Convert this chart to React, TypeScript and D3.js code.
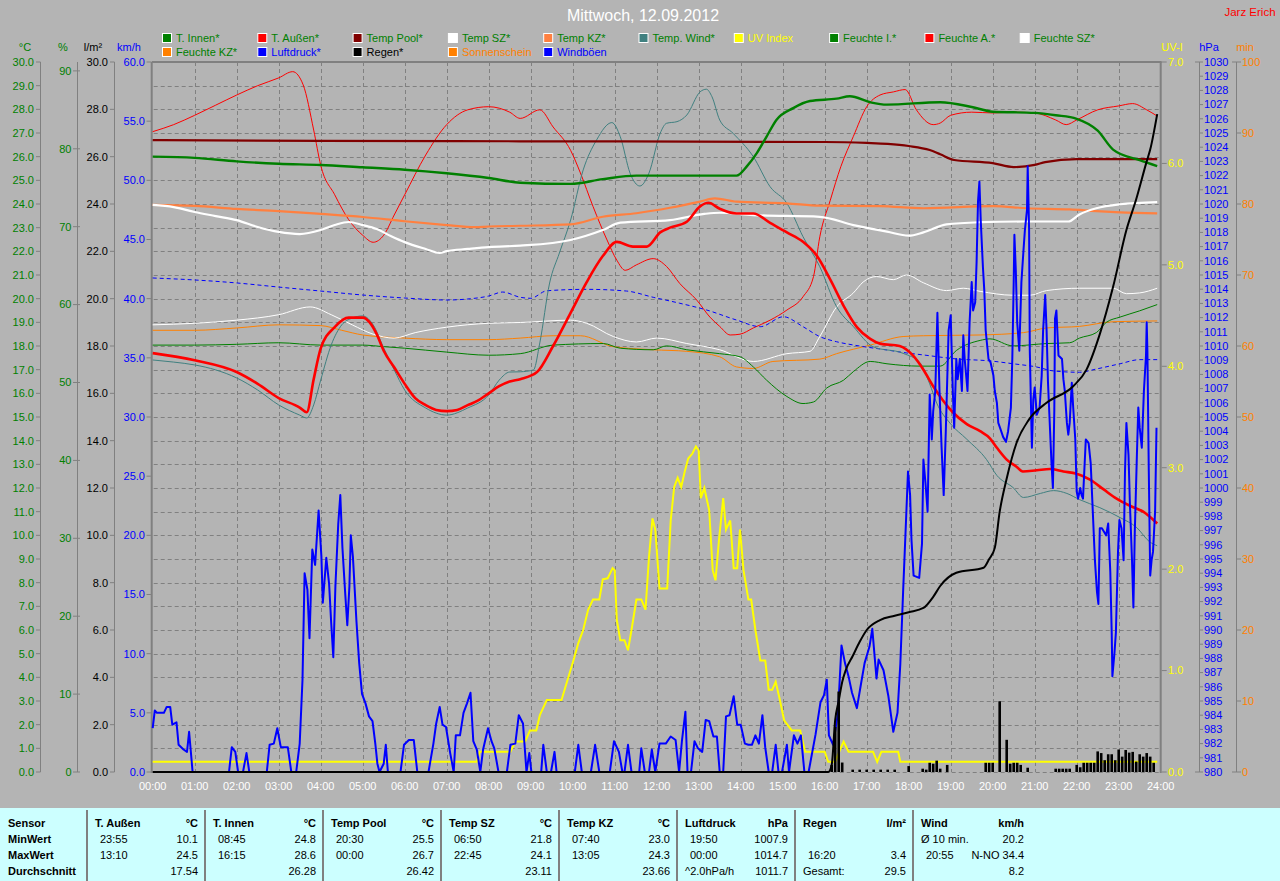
import React from "react";
import * as d3 from "d3";

type P = [string, number];
type M = [number, number];

// ---------- tick labels ----------
const hourTicks = d3.range(0, 25);
const tempTicks = d3.range(0, 31);
const pctTicks = d3.range(0, 91, 10);
const rainTicks = d3.range(0, 31, 2);
const kmhTicks = d3.range(0, 61, 5);
const uvTicks = d3.range(0, 8);
const hpaTicks = d3.range(980, 1031);
const minTicks = d3.range(0, 101, 10);

// ---------- series (time, value) ----------
const tInnen: P[] = [["00:00",26.0],["01:00",25.95],["02:00",25.8],["03:00",25.7],["04:00",25.65],["05:00",25.55],["06:00",25.45],["07:00",25.3],["08:00",25.1],["08:45",24.9],["09:57",24.85],["10:43",25.05],["11:31",25.2],["12:43",25.2],["13:54",25.2],["14:09",25.6],["14:23",26.15],["14:37",26.85],["14:51",27.55],["15:15",28.05],["15:39",28.35],["16:17",28.45],["16:36",28.55],["17:05",28.3],["17:29",28.2],["18:45",28.3],["19:30",28.1],["20:00",27.9],["21:00",27.85],["21:30",27.75],["22:00",27.6],["22:30",27.1],["22:52",26.3],["23:30",25.85],["23:55",25.6]];

const tAussen: P[] = [["00:00",17.7],["01:00",17.4],["02:00",16.9],["02:30",16.4],["03:00",15.8],["03:30",15.4],["03:40",15.2],["03:50",16.6],["04:00",17.9],["04:20",18.8],["04:40",19.2],["05:00",19.2],["05:10",19.0],["05:20",18.5],["05:30",17.8],["05:45",17.1],["06:00",16.4],["06:15",15.8],["06:30",15.5],["06:45",15.3],["07:00",15.25],["07:15",15.3],["07:30",15.5],["07:45",15.7],["08:00",16.0],["08:15",16.3],["08:30",16.5],["08:45",16.6],["09:09",16.9],["09:32",18.0],["09:57",19.4],["10:20",20.7],["10:43",21.8],["11:03",22.4],["11:26",22.2],["11:46",22.2],["12:05",22.8],["12:19",23.0],["12:43",23.25],["13:02",23.9],["13:14",24.05],["13:30",23.8],["13:54",23.6],["14:18",23.6],["14:42",23.2],["15:06",22.8],["15:29",22.4],["15:49",21.8],["16:08",20.8],["16:27",19.7],["16:46",18.8],["17:05",18.3],["17:19",18.1],["17:47",18.0],["18:06",17.6],["18:21",17.0],["18:35",16.3],["18:49",15.7],["19:03",15.2],["19:23",14.7],["19:42",14.4],["19:56",14.1],["20:06",13.7],["20:20",13.2],["20:34",12.9],["20:43",12.7],["21:03",12.75],["21:22",12.8],["21:41",12.7],["22:00",12.6],["22:19",12.35],["22:38",11.95],["22:57",11.55],["23:16",11.25],["23:35",11.0],["23:55",10.5]];

const tPool: P[] = [["00:00",26.7],["04:00",26.67],["08:45",26.65],["16:00",26.62],["17:00",26.58],["17:30",26.54],["18:00",26.45],["18:30",26.28],["18:45",26.1],["19:05",25.86],["20:00",25.73],["20:30",25.56],["21:00",25.65],["21:15",25.77],["22:00",25.9],["23:55",25.9]];

const tSZ: P[] = [["00:00",23.96],["00:30",23.87],["01:00",23.66],["01:30",23.49],["02:00",23.32],["02:30",23.03],["03:00",22.82],["03:30",22.73],["04:00",22.9],["04:20",23.11],["04:40",23.24],["05:00",23.11],["05:20",22.94],["05:40",22.65],["06:00",22.39],["06:30",22.1],["06:50",21.93],["07:00",22.01],["07:30",22.1],["08:00",22.18],["08:45",22.24],["09:57",22.48],["10:43",22.9],["11:08",23.21],["12:19",23.32],["13:08",23.58],["13:30",23.63],["14:18",23.53],["15:53",23.46],["16:41",23.11],["17:29",22.83],["18:00",22.66],["18:21",22.8],["18:54",23.14],["19:42",23.23],["20:44",23.26],["21:48",23.26],["22:04",23.56],["22:28",23.82],["23:02",23.99],["23:55",24.08]];

const tKZ: P[] = [["00:00",23.96],["01:00",23.92],["02:00",23.79],["03:00",23.7],["04:00",23.58],["05:00",23.45],["06:00",23.27],["07:00",23.11],["07:40",23.02],["08:00",23.05],["08:45",23.08],["09:57",23.14],["10:43",23.46],["11:31",23.61],["12:19",23.84],["13:02",24.1],["13:23",24.24],["13:54",24.1],["15:06",24.03],["15:53",23.93],["17:19",23.91],["18:21",23.82],["20:01",23.91],["20:49",23.82],["21:50",23.77],["22:28",23.7],["23:02",23.65],["23:55",23.6]];

const tWind: P[] = [["00:00",17.41],["00:30",17.32],["01:00",17.2],["01:30",16.99],["02:00",16.65],["02:30",16.14],["03:00",15.51],["03:30",15.08],["03:40",14.96],["03:50",15.51],["04:00",16.56],["04:15",18.04],["04:30",18.89],["04:45",19.18],["05:00",19.27],["05:15",18.89],["05:30",17.92],["05:45",16.99],["06:00",16.14],["06:30",15.38],["07:00",15.08],["07:30",15.38],["08:00",15.93],["08:15",16.56],["08:30",16.9],["08:45",16.91],["09:04",16.99],["09:13",18.13],["09:27",20.66],["09:41",21.93],["09:57",23.32],["10:15",25.44],["10:34",26.7],["10:56",27.44],["11:08",26.84],["11:22",25.3],["11:36",24.76],["11:49",25.31],["12:05",26.99],["12:14",27.41],["12:29",27.48],["12:43",27.76],["13:02",28.74],["13:11",28.85],["13:19",28.53],["13:30",27.55],["13:49",26.99],["14:18",26.0],["14:42",24.73],["15:06",24.03],["15:29",22.62],["15:53",21.35],["16:17",19.66],["16:41",18.82],["17:09",17.97],["17:52",17.69],["18:16",17.3],["18:30",16.4],["18:40",15.59],["18:59",14.74],["19:23",14.06],["19:51",13.21],["20:06",12.53],["20:29",12.02],["20:44",11.6],["21:08",11.77],["21:27",11.89],["21:46",11.77],["22:04",11.51],["22:33",11.17],["23:02",10.75],["23:26",10.32],["23:44",9.73],["23:55",9.56]];

const feuchteA: P[] = [["00:00",82.2],["00:30",83.1],["01:00",84.3],["01:30",85.6],["02:00",86.9],["02:30",88.1],["03:00",89.1],["03:20",89.9],["03:35",88.2],["03:50",82.4],["04:00",77.9],["04:20",74.1],["04:40",70.9],["05:00",68.9],["05:15",68.0],["05:30",68.9],["05:45",71.5],["06:00",74.1],["06:30",79.2],["07:00",83.1],["07:30",85.0],["08:00",85.4],["08:30",84.7],["08:45",83.9],["09:13",85.0],["09:32",82.8],["09:57",79.8],["10:11",76.9],["10:29",72.6],["10:49",68.3],["11:03",65.7],["11:15",64.4],["11:31",65.1],["11:55",65.9],["12:14",64.9],["12:33",62.7],["12:57",60.6],["13:16",58.4],["13:30",57.2],["13:45",56.1],["13:59",56.2],["14:18",57.0],["14:42",58.0],["15:06",59.3],["15:29",61.0],["15:44",63.6],["15:53",68.7],["16:08",73.4],["16:23",77.7],["16:41",81.6],["17:00",85.4],["17:19",86.9],["17:38",87.3],["17:55",87.6],["18:11",85.0],["18:35",83.1],["18:45",83.3],["19:00",84.3],["19:30",84.7],["20:00",84.6],["20:30",84.7],["21:00",84.6],["21:30",83.7],["21:45",83.1],["22:00",83.7],["22:30",85.0],["23:00",85.5],["23:20",85.8],["23:40",85.0],["23:55",84.2]];

const feuchteI: P[] = [["00:00",54.8],["01:00",54.8],["02:00",54.9],["03:00",55.1],["04:00",54.8],["05:00",54.8],["05:30",54.6],["06:00",54.4],["07:00",53.9],["08:00",53.5],["08:45",53.7],["09:32",54.8],["10:44",55.0],["11:08",54.4],["11:55",54.2],["12:14",54.7],["12:43",54.2],["13:30",53.7],["13:59",53.3],["14:18",52.0],["14:37",50.3],["15:06",48.2],["15:29",47.3],["15:44",47.5],["16:03",49.3],["16:27",50.3],["16:41",51.4],["17:05",52.7],["17:29",52.4],["18:16",52.1],["18:45",52.1],["19:08",54.1],["19:42",55.4],["19:56",55.6],["20:29",54.7],["21:17",55.0],["21:50",55.1],["22:04",55.7],["22:28",56.4],["22:42",57.7],["23:02",58.4],["23:30",59.2],["23:55",60.0]];

const feuchteSZ: P[] = [["00:00",57.4],["01:00",57.6],["02:00",58.0],["03:00",58.7],["03:45",59.7],["04:15",58.7],["04:45",57.4],["05:15",56.2],["05:45",55.7],["06:15",56.4],["07:00",57.1],["08:00",57.6],["08:45",57.7],["09:57",58.0],["10:20",57.6],["10:58",55.9],["11:31",55.2],["12:00",55.7],["12:43",55.0],["13:30",54.2],["14:18",52.7],["15:06",53.7],["15:39",54.0],["15:53",55.9],["16:17",59.7],["16:41",61.5],["16:55",62.9],["17:14",63.6],["17:38",63.2],["17:57",63.8],["18:21",62.8],["18:54",61.8],["19:18",62.1],["19:42",61.7],["20:29",61.2],["20:53",61.2],["21:17",61.8],["22:04",62.1],["22:52",62.1],["23:11",61.4],["23:30",61.5],["23:55",62.1]];

const feuchteKZ: P[] = [["00:00",56.7],["01:00",56.7],["02:00",57.0],["03:00",57.4],["04:00",57.3],["04:30",56.7],["05:00",56.1],["06:00",55.7],["07:00",55.5],["08:00",55.5],["08:45",55.7],["09:32",56.0],["10:11",56.0],["10:58",54.6],["11:55",54.2],["12:43",54.0],["13:30",53.3],["13:54",52.0],["14:18",51.8],["14:46",52.7],["15:53",53.0],["16:17",53.7],["17:05",54.8],["17:52",55.9],["18:21",56.0],["19:42",56.1],["20:44",56.4],["21:17",57.0],["22:04",57.2],["22:52",57.8],["23:55",57.9]];

const luftdruck: P[] = [["00:00",1014.79],["01:00",1014.65],["02:00",1014.44],["03:00",1014.15],["04:00",1013.87],["05:00",1013.59],["06:00",1013.38],["07:00",1013.24],["07:30",1013.31],["08:00",1013.52],["08:20",1013.8],["08:45",1013.43],["09:00",1013.36],["09:23",1013.89],["10:20",1013.99],["11:17",1013.87],["11:55",1013.43],["12:33",1013.01],["13:11",1012.54],["13:54",1011.83],["14:28",1011.36],["15:01",1012.06],["15:29",1011.36],["15:53",1010.66],["16:17",1010.3],["16:41",1010.07],["17:29",1009.72],["17:57",1009.51],["18:21",1009.37],["19:08",1009.09],["19:56",1008.95],["20:29",1008.75],["21:03",1008.52],["21:27",1008.24],["22:04",1008.15],["22:28",1008.38],["23:02",1008.75],["23:30",1009.04],["23:55",1009.04]];

const regenSumme: P[] = [["00:00",0],["16:05",0],["16:10",0.3],["16:15",2.2],["16:20",3.0],["16:25",3.8],["16:30",4.3],["16:40",4.9],["16:50",5.5],["17:00",6.0],["17:19",6.42],["17:40",6.6],["18:00",6.75],["18:21",6.93],["18:35",7.4],["18:45",7.86],["19:08",8.42],["19:47",8.63],["19:55",9.0],["20:03",9.47],["20:10",11.0],["20:20",12.4],["20:34",13.9],["20:52",14.9],["21:17",15.6],["21:55",16.3],["22:14",17.0],["22:33",18.5],["22:52",20.5],["23:11",22.9],["23:25",24.2],["23:40",25.8],["23:45",26.3],["23:55",27.8]];

const regenBalken: P[] = [["16:10",0.3],["16:15",1.9],["16:20",3.4],["16:25",0.4],["16:40",0.1],["16:50",0.1],["17:00",0.1],["17:10",0.1],["17:20",0.1],["17:30",0.1],["17:40",0.1],["18:00",0.25],["18:20",0.14],["18:25",0.1],["18:30",0.39],["18:35",0.35],["18:40",0.48],["18:45",0.14],["18:55",0.3],["19:50",0.39],["19:55",0.39],["20:00",0.39],["20:10",2.99],["20:20",1.36],["20:25",0.35],["20:30",0.39],["20:35",0.39],["20:40",0.3],["20:50",0.18],["21:30",0.14],["21:35",0.14],["21:40",0.14],["21:45",0.14],["21:50",0.14],["22:00",0.3],["22:05",0.2],["22:10",0.39],["22:15",0.39],["22:20",0.39],["22:25",0.39],["22:30",0.87],["22:35",0.8],["22:40",0.5],["22:45",0.75],["22:50",0.75],["22:55",0.5],["23:00",0.95],["23:05",0.65],["23:10",0.93],["23:15",0.82],["23:20",0.85],["23:25",0.44],["23:30",0.75],["23:35",0.65],["23:40",0.8],["23:45",0.65],["23:50",0.39]];

const uvIndex: P[] = [["00:00",0.1],["07:43",0.1],["07:47",0.2],["08:31",0.2],["08:38",0.3],["08:52",0.3],["08:59",0.41],["09:08",0.41],["09:13",0.56],["09:23",0.71],["09:44",0.71],["09:51",0.87],["10:01",1.1],["10:08",1.27],["10:15",1.4],["10:22",1.6],["10:29",1.7],["10:38",1.7],["10:43",1.9],["10:50",1.91],["10:57",2.01],["11:00",1.99],["11:03",1.5],["11:08",1.3],["11:14",1.3],["11:19",1.2],["11:24",1.4],["11:31",1.7],["11:38",1.7],["11:44",1.6],["11:49",2.12],["11:54",2.5],["11:58",2.39],["12:04",1.81],["12:15",1.81],["12:20",2.48],["12:25",2.81],["12:30",2.9],["12:35",2.81],["12:40",2.96],["12:45",3.09],["12:51",3.14],["12:56",3.21],["13:00",3.17],["13:03",2.7],["13:08",2.8],["13:15",2.58],["13:20",1.99],["13:24",1.89],["13:29",2.29],["13:35",2.7],["13:39",2.39],["13:45",2.48],["13:50",2.01],["13:55",2.01],["13:59",2.39],["14:04",1.99],["14:11",1.7],["14:15",1.7],["14:21",1.4],["14:28",1.1],["14:35",1.1],["14:40",0.81],["14:45",0.81],["14:50",0.89],["14:56",0.71],["15:02",0.51],["15:13",0.41],["15:25",0.41],["15:32",0.2],["16:00",0.2],["16:05",0.1],["16:15",0.1],["16:22",0.22],["16:27",0.3],["16:34",0.2],["17:09",0.2],["17:15",0.1],["17:21",0.2],["17:45",0.2],["17:48",0.1],["23:55",0.1]];

// Windböen: minutes after midnight, km/h
const windboeen: M[] = [[0,3.7],[3,5.2],[6,5.0],[16,5.0],[20,5.5],[25,5.5],[28,4.0],[34,4.2],[37,2.3],[44,1.9],[49,1.7],[52,3.4],[57,0],[109,0],[113,2.1],[118,1.7],[122,0],[129,0],[134,1.6],[138,0],[163,0],[167,2.3],[173,2.4],[178,3.7],[183,2.1],[193,2.1],[198,0],[205,0],[210,2.4],[214,7.8],[217,16.8],[221,15.4],[224,11.3],[228,18.8],[232,17.5],[237,22.1],[241,18.2],[243,14.3],[248,18.1],[252,15.9],[255,12.6],[258,9.7],[261,15.7],[265,20.9],[268,23.4],[271,19.0],[275,15.1],[278,12.4],[281,15.7],[283,20.0],[286,18.2],[291,12.8],[295,9.2],[299,6.6],[304,5.8],[309,4.7],[314,4.3],[318,2.4],[321,0.7],[324,0],[330,0.7],[333,2.3],[336,0],[354,0],[359,2.3],[366,2.7],[373,2.7],[378,0],[394,0],[401,2.4],[405,4.1],[410,5.5],[414,4.0],[419,3.8],[425,1.6],[430,0],[433,3.1],[439,3.1],[444,5.0],[449,5.8],[454,6.7],[458,2.6],[463,1.9],[468,0],[472,1.9],[479,3.7],[484,2.6],[488,2.0],[494,0],[506,0],[511,2.3],[518,2.4],[523,4.8],[529,4.1],[534,0],[538,1.6],[541,0],[555,0],[558,2.3],[563,0],[569,0],[574,1.7],[577,0],[603,0],[608,2.3],[613,0],[626,0],[632,2.3],[638,0],[653,0],[659,2.6],[666,1.7],[671,0],[674,0],[679,2.3],[684,0],[695,0],[698,2.0],[703,0],[709,0],[713,1.9],[718,0],[724,2.4],[733,2.4],[740,3.0],[747,2.7],[752,0],[756,2.6],[761,5.1],[764,0],[769,0],[774,2.6],[779,2.0],[785,1.7],[790,4.4],[795,4.3],[801,3.0],[806,3.0],[810,0],[815,0],[819,4.7],[824,4.8],[830,6.4],[835,4.0],[840,4.0],[846,2.4],[851,2.3],[856,2.3],[861,3.1],[866,2.4],[871,4.8],[875,2.1],[880,0],[885,0],[890,2.3],[894,0],[899,0],[906,2.3],[909,0],[916,3.1],[921,2.4],[926,3.1],[931,0],[937,0],[947,3.2],[954,5.9],[959,6.5],[963,7.8],[966,3.1],[972,2.3],[979,5.0],[984,10.7],[989,9.2],[994,8.1],[999,6.7],[1006,5.4],[1012,7.5],[1017,9.2],[1024,10.6],[1028,12.1],[1034,7.9],[1037,9.5],[1044,8.6],[1051,6.4],[1058,3.4],[1064,5.0],[1068,9.1],[1072,15.2],[1076,21.0],[1079,25.4],[1082,23.4],[1084,19.6],[1087,16.6],[1095,16.4],[1099,19.3],[1101,26.4],[1104,24.4],[1107,22.0],[1110,31.9],[1113,28.1],[1115,30.5],[1118,32.2],[1121,38.8],[1124,32.2],[1127,27.4],[1130,23.4],[1133,28.8],[1137,37.3],[1140,38.6],[1143,32.2],[1145,29.1],[1148,34.9],[1150,33.2],[1153,34.9],[1156,32.2],[1158,36.9],[1160,34.9],[1164,32.2],[1167,38.0],[1170,41.4],[1172,39.0],[1175,39.7],[1177,43.1],[1179,48.2],[1181,49.9],[1183,46.5],[1186,42.7],[1188,40.7],[1190,37.3],[1194,34.9],[1197,34.6],[1201,33.5],[1203,32.2],[1206,31.2],[1208,29.5],[1211,29.0],[1215,28.3],[1219,27.9],[1222,28.8],[1226,30.8],[1228,34.9],[1230,41.4],[1231,45.4],[1233,42.4],[1235,38.0],[1238,35.6],[1241,41.4],[1244,44.1],[1246,45.8],[1249,47.5],[1250,51.2],[1252,45.8],[1253,35.6],[1256,27.4],[1258,31.5],[1260,32.5],[1263,30.2],[1267,30.8],[1270,33.5],[1272,37.3],[1275,40.3],[1277,37.3],[1279,32.9],[1282,28.8],[1284,26.1],[1286,24.0],[1288,30.5],[1289,38.3],[1291,39.0],[1294,35.2],[1299,34.9],[1301,33.2],[1303,32.2],[1306,29.5],[1308,28.5],[1310,29.5],[1313,32.9],[1315,30.8],[1318,28.1],[1320,23.7],[1322,23.1],[1325,24.0],[1327,23.4],[1329,23.1],[1333,28.1],[1337,27.8],[1340,26.1],[1343,22.0],[1346,17.9],[1349,15.2],[1351,14.2],[1353,20.6],[1356,20.6],[1359,20.3],[1362,20.0],[1365,21.0],[1368,16.9],[1370,11.8],[1371,8.1],[1374,10.1],[1376,11.8],[1379,18.6],[1381,21.3],[1384,20.6],[1387,17.9],[1389,25.4],[1391,29.5],[1394,26.8],[1396,22.7],[1399,17.9],[1401,13.9],[1403,20.3],[1406,26.8],[1408,30.8],[1410,29.1],[1413,27.4],[1416,32.2],[1419,35.2],[1420,38.0],[1421,35.6],[1423,25.4],[1425,16.6],[1427,17.9],[1429,18.6],[1432,22.0],[1434,29.1]];

// ---------- legend ----------
const legendRow1 = ["T. Innen*", "T. Außen*", "Temp Pool*", "Temp SZ*", "Temp KZ*", "Temp. Wind*", "UV Index", "Feuchte I.*", "Feuchte A.*", "Feuchte SZ*"];
const legendRow2 = ["Feuchte KZ*", "Luftdruck*", "Regen*", "Sonnenschein", "Windböen"];

// ---------- table ----------
const tableRowNames = ["Sensor", "MinWert", "MaxWert", "Durchschnitt"];
const tableHeads = ["T. Außen", "T. Innen", "Temp Pool", "Temp SZ", "Temp KZ", "Luftdruck", "Regen", "Wind"];
const tableUnits = ["°C", "°C", "°C", "°C", "°C", "hPa", "l/m²", "km/h"];
const tableMinTime = ["23:55", "08:45", "20:30", "06:50", "07:40", "19:50", "", "Ø 10 min."];
const tableMinVal = ["10.1", "24.8", "25.5", "21.8", "23.0", "1007.9", "", "20.2"];
const tableMaxTime = ["13:10", "16:15", "00:00", "22:45", "13:05", "00:00", "16:20", "20:55"];
const tableMaxVal = ["24.5", "28.6", "26.7", "24.1", "24.3", "1014.7", "3.4", "N-NO 34.4"];
const tableAvgLabel = ["", "", "", "", "", "^2.0hPa/h", "Gesamt:", ""];
const tableAvgVal = ["17.54", "26.28", "26.42", "23.11", "23.66", "1011.7", "29.5", "8.2"];

const toMin = (s: string) => {
  const [h, m] = s.split(":").map(Number);
  return h * 60 + m;
};

const C = {
  bg: "rgb(180,180,180)",
  grid: "#808080",
  green: "#008000",
  red: "#ff0000",
  darkred: "#800000",
  white: "#ffffff",
  coral: "#ff8040",
  teal: "#408080",
  yellow: "#ffff00",
  orange: "#ff8000",
  blue: "#0000ff",
  black: "#000000",
};

const legendColors1 = [C.green, C.red, C.darkred, C.white, C.coral, C.teal, C.yellow, C.green, C.red, C.white];
const legendText1 = [C.green, C.green, C.green, C.green, C.green, C.green, C.yellow, C.green, C.green, C.green];
const legendColors2 = [C.orange, C.blue, C.black, C.orange, C.blue];
const legendText2 = [C.green, C.blue, C.black, C.orange, C.blue];

const FONT = "'Liberation Sans', Arial, sans-serif";

export default function App() {
  const top = 62, bottom = 772;
  const x = d3.scaleLinear().domain([0, 1440]).range([152.7, 1160.7]);
  const yC = d3.scaleLinear().domain([0, 30]).range([bottom, top]);
  const yPct = d3.scaleLinear().domain([0, 91.14]).range([bottom, top]);
  const yRain = d3.scaleLinear().domain([0, 30]).range([bottom, top]);
  const yKmh = d3.scaleLinear().domain([0, 60]).range([bottom, top]);
  const yUV = d3.scaleLinear().domain([0, 7]).range([bottom, top]);
  const yHpa = d3.scaleLinear().domain([980, 1030]).range([bottom, top]);
  const yMin = d3.scaleLinear().domain([0, 100]).range([bottom, top]);

  const smooth = (data: P[], y: d3.ScaleLinear<number, number>) =>
    d3.line<P>().x((d) => x(toMin(d[0]))).y((d) => y(d[1])).curve(d3.curveMonotoneX)(data) || "";
  const straight = (data: P[], y: d3.ScaleLinear<number, number>) =>
    d3.line<P>().x((d) => x(toMin(d[0]))).y((d) => y(d[1]))(data) || "";
  const gustPath =
    d3.line<M>().x((d) => x(d[0])).y((d) => yKmh(d[1]))(windboeen) || "";

  const f1 = d3.format(".1f");
  const left = 152.7, right = 1160.7;

  const lbl = { fontSize: 11, fontFamily: FONT } as const;

  return (
    <div style={{ position: "absolute", left: 0, top: 0, width: 1280, height: 881 }}>
      <svg width={1280} height={881} style={{ display: "block" }} fontFamily={FONT}>
        <rect x={0} y={0} width={1280} height={881} fill={C.bg} />

        {/* title */}
        <text x={643} y={15} fill="#fff" fontSize={16} textAnchor="middle" dy="0.35em">Mittwoch, 12.09.2012</text>
        <text x={1250} y={12} fill={C.red} fontSize={11.5} textAnchor="middle" dy="0.35em">Jarz Erich</text>

        {/* legend */}
        {legendRow1.map((l, i) => (
          <g key={"l1" + i}>
            <rect x={162.5 + 95.3 * i} y={33.5} width={9} height={9} fill={legendColors1[i]} stroke="#fff" strokeWidth={1} />
            <text x={176 + 95.3 * i} y={38} fill={legendText1[i]} {...lbl} dy="0.35em">{l}</text>
          </g>
        ))}
        {legendRow2.map((l, i) => (
          <g key={"l2" + i}>
            <rect x={162.5 + 95.3 * i} y={47.5} width={9} height={9} fill={legendColors2[i]} stroke="#fff" strokeWidth={1} />
            <text x={176 + 95.3 * i} y={52} fill={legendText2[i]} {...lbl} dy="0.35em">{l}</text>
          </g>
        ))}

        {/* axis titles */}
        <text x={25} y={47} fill={C.green} {...lbl} textAnchor="middle" dy="0.35em">°C</text>
        <text x={63} y={47} fill={C.green} {...lbl} textAnchor="middle" dy="0.35em">%</text>
        <text x={93} y={47} fill={C.black} {...lbl} textAnchor="middle" dy="0.35em">l/m²</text>
        <text x={129} y={47} fill={C.blue} {...lbl} textAnchor="middle" dy="0.35em">km/h</text>
        <text x={1172} y={47} fill={C.yellow} {...lbl} textAnchor="middle" dy="0.35em">UV-I</text>
        <text x={1209} y={47} fill={C.blue} {...lbl} textAnchor="middle" dy="0.35em">hPa</text>
        <text x={1245} y={47} fill={C.orange} {...lbl} textAnchor="middle" dy="0.35em">min</text>

        {/* grid */}
        {tempTicks.filter((t) => t >= 0 && t < 30).map((t) => (
          <line key={"gh" + t} x1={left + 1} x2={right - 1} y1={Math.round(yC(t)) + 0.5} y2={Math.round(yC(t)) + 0.5}
            stroke={C.grid} strokeDasharray="4,3" strokeWidth={1} />
        ))}
        {hourTicks.filter((h) => h > 0 && h < 24).map((h) => (
          <line key={"gv" + h} x1={Math.round(x(h * 60)) + 0.5} x2={Math.round(x(h * 60)) + 0.5} y1={top} y2={bottom}
            stroke={C.grid} strokeDasharray="4,3" strokeWidth={1} />
        ))}

        {/* frame */}
        <line x1={left - 1} x2={right + 1} y1={top} y2={top} stroke={C.grid} strokeWidth={2} />
        <line x1={left - 1} x2={left - 1} y1={top} y2={bottom + 1} stroke={C.grid} strokeWidth={2} />
        <line x1={right} x2={right} y1={top} y2={bottom + 1} stroke={C.grid} strokeWidth={2} />

        {/* left axes */}
        <line x1={40.5} x2={40.5} y1={top} y2={bottom} stroke={C.grid} />
        {tempTicks.map((t) => (
          <g key={"tc" + t}>
            <line x1={36} x2={40.5} y1={yC(t)} y2={yC(t)} stroke={C.grid} />
            <text x={34} y={yC(t)} fill={C.green} {...lbl} textAnchor="end" dy="0.35em">{f1(t)}</text>
          </g>
        ))}
        <line x1={77.5} x2={77.5} y1={top} y2={bottom} stroke={C.grid} />
        {pctTicks.map((t) => (
          <g key={"tp" + t}>
            <line x1={73} x2={80} y1={yPct(t)} y2={yPct(t)} stroke={C.grid} />
            <text x={71.5} y={yPct(t)} fill={C.green} {...lbl} textAnchor="end" dy="0.35em">{t}</text>
          </g>
        ))}
        <line x1={114.5} x2={114.5} y1={top} y2={bottom} stroke={C.grid} />
        {rainTicks.map((t) => (
          <g key={"tr" + t}>
            <line x1={110} x2={114.5} y1={yRain(t)} y2={yRain(t)} stroke={C.grid} />
            <text x={108} y={yRain(t)} fill={C.black} {...lbl} textAnchor="end" dy="0.35em">{f1(t)}</text>
          </g>
        ))}
        {kmhTicks.map((t) => (
          <g key={"tk" + t}>
            <line x1={146.5} x2={151} y1={yKmh(t)} y2={yKmh(t)} stroke={C.grid} />
            <text x={145} y={yKmh(t)} fill={C.blue} {...lbl} textAnchor="end" dy="0.35em">{f1(t)}</text>
          </g>
        ))}

        {/* right axes */}
        {uvTicks.map((t) => (
          <g key={"tu" + t}>
            <line x1={right + 1} x2={right + 6} y1={yUV(t)} y2={yUV(t)} stroke={C.grid} />
            <text x={1168} y={yUV(t)} fill={C.yellow} {...lbl} dy="0.35em">{f1(t)}</text>
          </g>
        ))}
        <line x1={1199.5} x2={1199.5} y1={top} y2={bottom} stroke={C.grid} />
        {hpaTicks.map((t) => (
          <g key={"th" + t}>
            <line x1={t === 1030 || t === 980 ? 1195 : 1199.5} x2={1203} y1={yHpa(t)} y2={yHpa(t)} stroke={C.grid} />
            <text x={1204} y={yHpa(t)} fill={C.blue} {...lbl} dy="0.35em">{t}</text>
          </g>
        ))}
        <line x1={1236.5} x2={1236.5} y1={top} y2={bottom} stroke={C.grid} />
        {minTicks.map((t) => (
          <g key={"tm" + t}>
            <line x1={t === 100 || t === 0 ? 1232 : 1236.5} x2={1241} y1={yMin(t)} y2={yMin(t)} stroke={C.grid} />
            <text x={1242} y={yMin(t)} fill={C.orange} {...lbl} dy="0.35em">{t}</text>
          </g>
        ))}

        {/* x labels */}
        {hourTicks.map((h) => (
          <text key={"xl" + h} x={x(h * 60)} y={786} fill="#fff" {...lbl} textAnchor="middle" dy="0.35em">
            {String(h).padStart(2, "0")}:00
          </text>
        ))}

        {/* humidity */}
        <path d={smooth(feuchteKZ, yPct)} fill="none" stroke={C.orange} strokeWidth={1} />
        <path d={smooth(feuchteSZ, yPct)} fill="none" stroke={C.white} strokeWidth={1} />
        <path d={smooth(feuchteI, yPct)} fill="none" stroke={C.green} strokeWidth={1} />
        <path d={smooth(feuchteA, yPct)} fill="none" stroke={C.red} strokeWidth={1} />
        {/* pressure */}
        <path d={smooth(luftdruck, yHpa)} fill="none" stroke={C.blue} strokeWidth={1} strokeDasharray="4,3" />
        {/* temperatures */}
        <path d={smooth(tWind, yC)} fill="none" stroke={C.teal} strokeWidth={1} />
        <path d={smooth(tKZ, yC)} fill="none" stroke={C.coral} strokeWidth={2.2} />
        <path d={smooth(tSZ, yC)} fill="none" stroke={C.white} strokeWidth={2.2} />
        <path d={smooth(tPool, yC)} fill="none" stroke={C.darkred} strokeWidth={2.2} />
        <path d={smooth(tInnen, yC)} fill="none" stroke={C.green} strokeWidth={2.4} />
        <path d={smooth(tAussen, yC)} fill="none" stroke={C.red} strokeWidth={2.6} />
        {/* UV */}
        <path d={straight(uvIndex, yUV)} fill="none" stroke={C.yellow} strokeWidth={2} />
        {/* gusts */}
        <path d={gustPath} fill="none" stroke={C.blue} strokeWidth={2} strokeLinejoin="round" />
        {/* rain */}
        {regenBalken.map((d, i) => (
          <rect key={"rb" + i} x={x(toMin(d[0])) - 1.3} width={2.6} y={yRain(d[1])} height={bottom - yRain(d[1])} fill={C.black} />
        ))}
        <path d={smooth(regenSumme, yRain)} fill="none" stroke={C.black} strokeWidth={2} />

        {/* table */}
        <rect x={0} y={808} width={1280} height={73} fill="#ccffff" />
        {tableHeads.map((_, i) => (
          <line key={"sep" + i} x1={87 + 118 * i} x2={87 + 118 * i} y1={810} y2={881} stroke={C.grid} strokeWidth={2} />
        ))}
        {tableRowNames.map((r, j) => (
          <text key={"rn" + j} x={8} y={823 + j * 16} fill="#000" fontSize={11} fontWeight="bold" dy="0.35em">{r}</text>
        ))}
        {tableHeads.map((h, i) => {
          const cx = 87 + 118 * i;
          return (
            <g key={"col" + i}>
              <text x={cx + 8} y={823} fontSize={11} fontWeight="bold" dy="0.35em">{h}</text>
              <text x={cx + 111} y={823} fontSize={11} fontWeight="bold" textAnchor="end" dy="0.35em">{tableUnits[i]}</text>
              <text x={cx + (i === 7 ? 8 : 13)} y={839} fontSize={11} dy="0.35em">{tableMinTime[i]}</text>
              <text x={cx + 111} y={839} fontSize={11} textAnchor="end" dy="0.35em">{tableMinVal[i]}</text>
              <text x={cx + 13} y={855} fontSize={11} dy="0.35em">{tableMaxTime[i]}</text>
              <text x={cx + 111} y={855} fontSize={11} textAnchor="end" dy="0.35em">{tableMaxVal[i]}</text>
              <text x={cx + 8} y={871} fontSize={11} dy="0.35em">{tableAvgLabel[i]}</text>
              <text x={cx + 111} y={871} fontSize={11} textAnchor="end" dy="0.35em">{tableAvgVal[i]}</text>
            </g>
          );
        })}
      </svg>
    </div>
  );
}
